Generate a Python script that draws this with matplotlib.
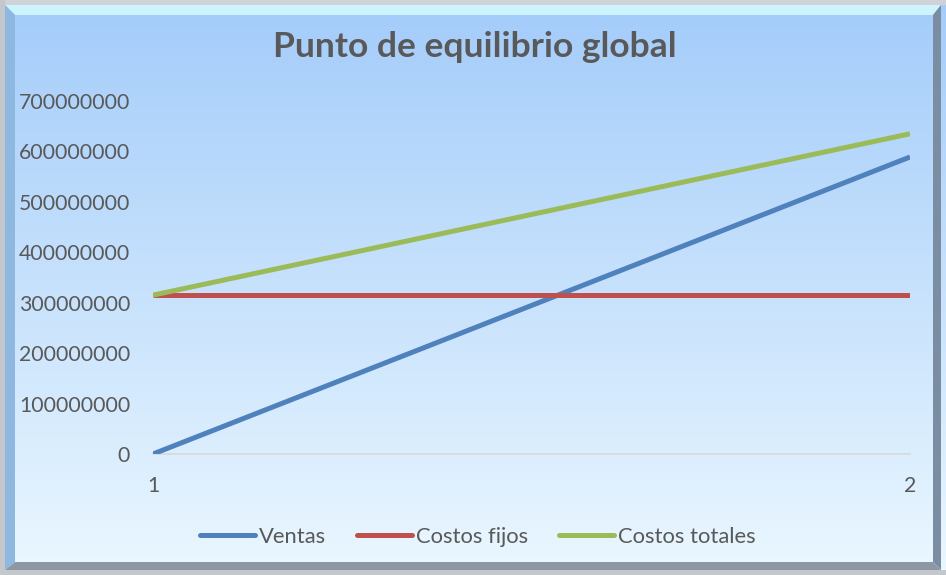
import numpy as np
import matplotlib.pyplot as plt
from matplotlib.patches import Polygon

plt.rcParams['font.family'] = ['Lato', 'DejaVu Sans']

periodos = [1, 2]
ventas = [0, 589000000]
costos_fijos = [315000000, 315000000]
costos_totales = [315000000, 635000000]

fig = plt.figure(figsize=(9.46, 5.75), dpi=100)

# fondo degradado azul
bg = fig.add_axes([0, 0, 1, 1], zorder=0)
grad = np.linspace(0, 1, 256).reshape(-1, 1)
top = np.array([0.64, 0.80, 0.98])
bottom = np.array([0.92, 0.97, 1.0])
img = top + (bottom - top) * grad[..., None]
bg.imshow(img, aspect='auto', extent=[0, 1, 0, 1], origin='upper')
bg.set_xlim(0, 1)
bg.set_ylim(0, 1)
bg.axis('off')

# bordes biselados
W, H = 946, 575
def bevel(pts, color):
    bg.add_patch(Polygon([(x / W, 1 - y / H) for x, y in pts], closed=True,
                         facecolor=color, edgecolor='none'))
bevel([(0, 0), (946, 0), (946, 5), (0, 5)], '#cfd3d8')
bevel([(5, 5), (941, 5), (933, 15), (15, 15)], '#cdf3fd')
bevel([(5, 5), (15, 15), (15, 562), (5, 570)], '#8fb8e0')
bevel([(941, 5), (941, 570), (933, 562), (933, 15)], '#7b8da3')
bevel([(5, 570), (941, 570), (933, 562), (15, 562)], '#8e98a4')
bevel([(0, 570), (946, 570), (946, 575), (0, 575)], '#c4c8cc')
bevel([(0, 0), (5, 0), (5, 575), (0, 575)], '#c4c8cc')

ax = fig.add_axes([153 / W, 1 - 454 / H, (910 - 153) / W, (454 - 101) / H], zorder=1)
ax.patch.set_alpha(0)

ax.plot(periodos, ventas, color='#4f81bd', lw=3.6, label='Ventas', solid_capstyle='butt')
ax.plot(periodos, costos_fijos, color='#c0504d', lw=3.6, label='Costos fijos', solid_capstyle='butt')
ax.plot(periodos, costos_totales, color='#9bbb59', lw=3.6, label='Costos totales', solid_capstyle='butt')

ax.set_xlim(1, 2)
ax.set_ylim(0, 700000000)
ax.set_xticks(periodos)
ax.set_xticklabels(['1', '2'])
ax.set_yticks(np.arange(0, 700000001, 100000000))
ax.set_yticklabels([str(v) for v in range(0, 700000001, 100000000)])
ax.tick_params(length=0, labelsize=15.3, colors='#595959')
ax.tick_params(axis='y', pad=16.5)
ax.tick_params(axis='x', pad=16)
for s in ['top', 'right', 'left']:
    ax.spines[s].set_visible(False)
ax.spines['bottom'].set_color('#d9d9d9')
ax.spines['bottom'].set_linewidth(1.2)
ax.spines['bottom'].set_zorder(0)

fig.text(475 / W, 1 - 47 / H, 'Punto de equilibrio global', ha='center', va='center',
         fontsize=25.5, fontweight='bold', color='#595959')

leg = fig.legend(loc='center', bbox_to_anchor=(478 / W, 1 - 537 / H), ncol=3,
                 frameon=False, fontsize=15.8, handlelength=2.5, handletextpad=0.2,
                 columnspacing=1.4)
for t in leg.get_texts():
    t.set_color('#595959')
for h in leg.legend_handles:
    h.set_solid_capstyle('round')

fig.savefig('out.png', dpi=100)
